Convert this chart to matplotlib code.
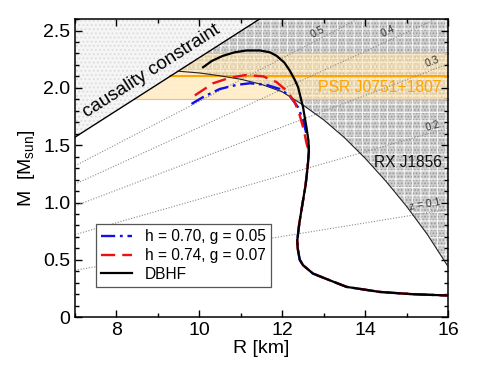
import numpy as np
import matplotlib
matplotlib.use("Agg")
import matplotlib.pyplot as plt
from matplotlib.ticker import MultipleLocator, FuncFormatter

plt.rcParams['font.family'] = ['Liberation Sans', 'DejaVu Sans']
plt.rcParams['mathtext.fontset'] = 'custom'
plt.rcParams['mathtext.rm'] = 'Liberation Sans'
plt.rcParams['hatch.linewidth'] = 0.8

# ---- data ----
# causality constraint line (R km, M Msun)
caus_R = [7.0, 11.45]
caus_M = [1.57, 2.60]

# RX J1856 constraint curve
rx_R = [9.5, 10.0, 10.5, 11.0, 11.5, 12.0, 12.5, 13.0, 13.5, 14.0, 14.5, 15.0, 15.5, 16.0]
rx_M = [2.145, 2.13, 2.105, 2.075, 2.03, 1.965, 1.85, 1.72, 1.565, 1.385, 1.185, 0.965, 0.72, 0.44]

# PSR J0751+1807 band
psr_low, psr_mid, psr_high = 1.9, 2.1, 2.3

# gravitational redshift lines: M at R=7 and R=16
z_labels = ["z = 0.1", "0.2", "0.3", "0.4", "0.5"]
z_M7 = [0.41, 0.72, 0.97, 1.16, 1.32]
z_M16 = [0.94, 1.65, 2.21, 2.65, 3.01]
z_lab_R = [15.45, 15.62, 15.62, 14.55, 12.85]
z_lab_M = [0.985, 1.665, 2.225, 2.49, 2.49]

# DBHF curve
dbhf_R = [10.09, 10.3, 10.57, 10.85, 11.13, 11.46, 11.7, 11.86, 12.05, 12.18, 12.3, 12.38,
          12.5, 12.58, 12.63, 12.64, 12.61, 12.56, 12.5, 12.41, 12.36, 12.37, 12.42, 12.5,
          12.74, 13.14, 13.55, 14.35, 15.15, 16.0]
dbhf_M = [2.18, 2.235, 2.28, 2.31, 2.326, 2.326, 2.31, 2.28, 2.22, 2.15, 2.07, 2.006,
          1.83, 1.66, 1.54, 1.45, 1.31, 1.15, 1.02, 0.82, 0.67, 0.60, 0.50, 0.453,
          0.38, 0.322, 0.264, 0.22, 0.20, 0.189]

# h = 0.74, g = 0.07 (red dashed)
red_R = [9.89, 10.33, 10.73, 11.13, 11.54, 11.86, 12.1, 12.3, 12.42, 12.52, 12.58, 12.63,
         12.64, 12.61, 12.56, 12.5, 12.41, 12.36, 12.37, 12.42, 12.5, 12.74, 13.14, 13.55,
         14.35, 15.15, 16.0]
red_M = [1.934, 2.04, 2.088, 2.113, 2.10, 2.05, 1.977, 1.875, 1.76, 1.63, 1.52, 1.46,
         1.42, 1.31, 1.15, 1.02, 0.82, 0.67, 0.60, 0.50, 0.453, 0.38, 0.322, 0.264,
         0.22, 0.20, 0.189]

# h = 0.70, g = 0.05 (blue dash-dot)
blue_R = [9.81, 10.09, 10.49, 10.9, 11.22, 11.62, 11.94, 12.18, 12.38, 12.5, 12.58, 12.63,
          12.64, 12.61, 12.56, 12.5, 12.41, 12.36, 12.37, 12.42, 12.5, 12.74, 13.14, 13.55,
          14.35, 15.15, 16.0]
blue_M = [1.86, 1.92, 1.99, 2.026, 2.04, 2.026, 1.99, 1.93, 1.83, 1.72, 1.60, 1.53,
          1.45, 1.31, 1.15, 1.02, 0.82, 0.67, 0.60, 0.50, 0.453, 0.38, 0.322, 0.264,
          0.22, 0.20, 0.189]

xmin, xmax, ymin, ymax = 7, 16, 0, 2.6

fig = plt.figure(figsize=(4.84, 3.74), dpi=100)
ax = fig.add_axes([0.155, 0.152, 0.771, 0.797])
ax.set_xlim(xmin, xmax)
ax.set_ylim(ymin, ymax)

# region above causality line (light)
ax.fill_between(caus_R, caus_M, ymax, facecolor='#f5f5f5', edgecolor='#dcdcdc',
                hatch='....', linewidth=0, zorder=0)

# RX J1856 excluded region (darker)
grid = np.unique(np.concatenate([np.linspace(rx_R[0], rx_R[-1], 200), [caus_R[1]]]))
low = np.interp(grid, rx_R, rx_M)
up = np.minimum(np.interp(grid, caus_R, caus_M), ymax)
ax.fill_between(grid, low, up, facecolor='#cdcdcd', edgecolor='#9a9a9a',
                hatch='.....', linewidth=0, zorder=0)
ax.fill_between(grid, low, up, facecolor='none', edgecolor='#f4f4f4',
                hatch='++', linewidth=0, zorder=0)

# PSR band
yb = np.array([psr_low, psr_high])
xb = np.interp(yb, caus_M, caus_R)
ax.fill_betweenx(yb, xb, xmax, facecolor='#ffe2a8', alpha=0.6, edgecolor='none',
                 linewidth=0, zorder=1)
ax.fill_betweenx(yb, xb, xmax, facecolor='none', edgecolor='#fff0d6', hatch='....',
                 linewidth=0, zorder=1)
for yv, lw in [(psr_low, 0.8), (psr_high, 0.8), (psr_mid, 1.5)]:
    x0 = np.interp(yv, caus_M, caus_R)
    ax.plot([x0, xmax], [yv, yv], color='#ffa500' if lw > 1 else '#ffbe50', lw=lw, zorder=2)

# redshift lines
for lab, m7, m16, lr, lm in zip(z_labels, z_M7, z_M16, z_lab_R, z_lab_M):
    ax.plot([7, 16], [m7, m16], color='#8a8a8a', lw=0.8, ls=(0, (1, 1.5)), zorder=2)
    slope_pix = (m16 - m7) / 9.0 * (0.797 * 3.74 / 2.6) / (0.771 * 4.84 / 9.0)
    ang = np.degrees(np.arctan(slope_pix))
    ax.text(lr, lm, lab, fontsize=7.5, color='#333333', rotation=ang,
            ha='center', va='center', zorder=3)

# constraint lines
ax.plot(caus_R, caus_M, color='black', lw=1.0, zorder=3)
ax.plot(rx_R, rx_M, color='#222222', lw=0.8, zorder=3)

# EoS curves
l1, = ax.plot(blue_R, blue_M, color='#1010ee', lw=1.7, ls=(0, (6, 2, 1.2, 2)), zorder=4,
              label='h = 0.70, g = 0.05')
l2, = ax.plot(red_R, red_M, color='#ee1010', lw=1.7, ls=(0, (6, 3)), zorder=4,
              label='h = 0.74, g = 0.07')
l3, = ax.plot(dbhf_R, dbhf_M, color='black', lw=1.6, zorder=5, label='DBHF')

# texts
ax.text(8.84, 2.15, 'causality constraint', fontsize=13.5, rotation=32.5,
        ha='center', va='center', zorder=6)
ax.text(15.85, 2.0, 'PSR J0751+1807', fontsize=11.3, color='#ffa500',
        ha='right', va='center', zorder=6)
ax.text(15.85, 1.35, 'RX J1856', fontsize=11.2, color='#111111',
        ha='right', va='center', zorder=6)

leg = ax.legend(handles=[l1, l2, l3], loc='lower left', bbox_to_anchor=(0.056, 0.10),
                fontsize=11.2, frameon=True, fancybox=False, framealpha=1,
                edgecolor='#555555', handlelength=2.0, handletextpad=0.8,
                labelspacing=0.25, borderpad=0.35, borderaxespad=0)
leg.get_frame().set_linewidth(0.9)
leg.set_zorder(7)

# axes styling
ax.xaxis.set_major_locator(MultipleLocator(2))
ax.xaxis.set_minor_locator(MultipleLocator(1))
ax.yaxis.set_major_locator(MultipleLocator(0.5))
ax.yaxis.set_minor_locator(MultipleLocator(0.1))
ax.yaxis.set_major_formatter(FuncFormatter(lambda v, p: '0' if abs(v) < 1e-9 else f'{v:.1f}'))
ax.tick_params(which='both', direction='in', top=True, right=True, labelsize=14, width=1.0)
ax.tick_params(which='major', length=5)
ax.tick_params(which='minor', length=2.8)
for s in ax.spines.values():
    s.set_linewidth(1.1)

ax.set_xlabel('R [km]', fontsize=14, labelpad=1)
ax.set_ylabel(r'M  [M$_{\rm sun}$]', fontsize=14, labelpad=4)

fig.savefig('out.png', dpi=100)
